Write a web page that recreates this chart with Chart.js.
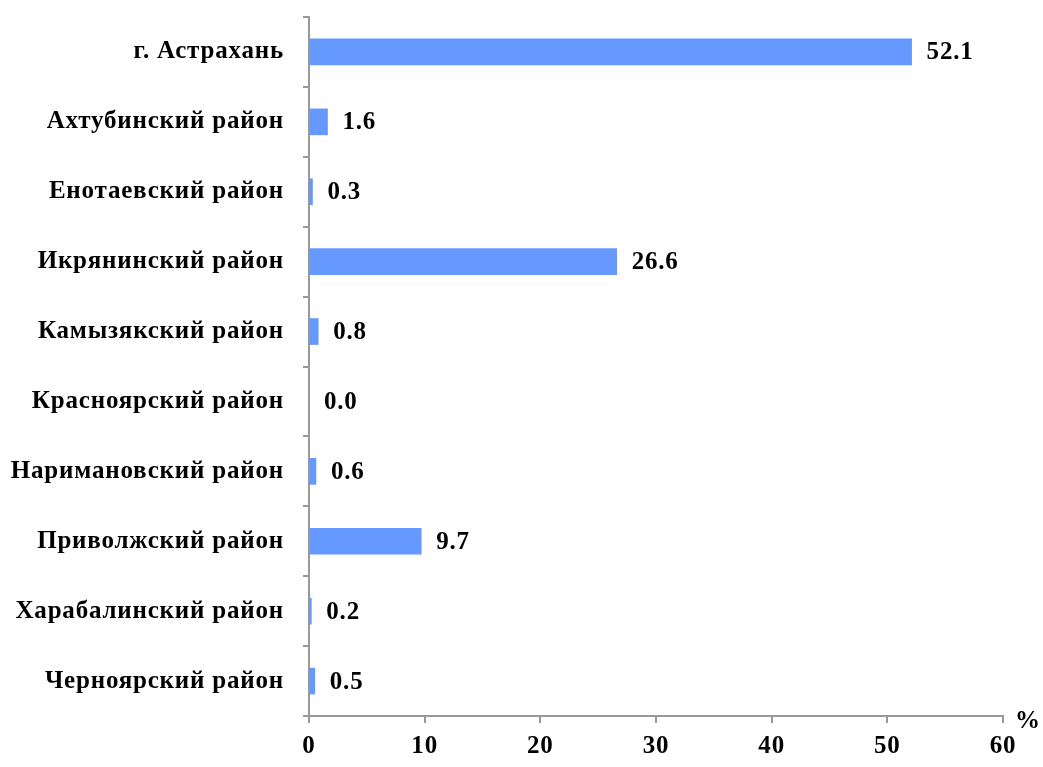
<!DOCTYPE html>
<html>
<head>
<meta charset="utf-8">
<script src="https://cdn.jsdelivr.net/npm/chart.js@4"></script>
<style>
html,body{margin:0;padding:0;background:#fff;}
#wrap{width:1043px;height:767px;}
</style>
</head>
<body>
<div id="wrap"><canvas id="c" width="1043" height="767"></canvas></div>
<script>
const categories = ["г. Астрахань","Ахтубинский район","Енотаевский район","Икрянинский район","Камызякский район","Красноярский район","Наримановский район","Приволжский район","Харабалинский район","Черноярский район"];
const values = [52.1, 1.6, 0.3, 26.6, 0.8, 0.0, 0.6, 9.7, 0.2, 0.5];
const xTicks = [0, 10, 20, 30, 40, 50, 60];
const unitLabel = "%";

const FONT = "'Liberation Serif', 'Times New Roman', serif";
const FSIZE = 25;
const SPACING = '0.8px';

const spacingPlugin = {
  id: 'spacing',
  beforeDraw(chart) { chart.ctx.letterSpacing = SPACING; },
  beforeLayout(chart) { chart.ctx.letterSpacing = SPACING; }
};

const labelPlugin = {
  id: 'valLabels',
  afterDatasetsDraw(chart) {
    const ctx = chart.ctx;
    const meta = chart.getDatasetMeta(0);
    ctx.save();
    ctx.letterSpacing = SPACING;
    ctx.font = "bold " + FSIZE + "px " + FONT;
    ctx.fillStyle = "#000";
    ctx.textBaseline = "middle";
    ctx.textAlign = "left";
    meta.data.forEach((bar, i) => {
      ctx.fillText(values[i].toFixed(1), bar.x + 15, bar.y + 1);
    });
    const xs = chart.scales.x;
    ctx.fillText(unitLabel, xs.right + 12, xs.top + 6);
    ctx.restore();
  }
};

new Chart(document.getElementById('c'), {
  type: 'bar',
  data: {
    labels: categories,
    datasets: [{
      data: values,
      backgroundColor: '#6699FF',
      borderWidth: 0,
      barThickness: 26
    }]
  },
  options: {
    indexAxis: 'y',
    responsive: false,
    animation: false,
    devicePixelRatio: 1,
    layout: { padding: { top: 17, right: 40, left: 0, bottom: 0 } },
    plugins: { legend: { display: false }, tooltip: { enabled: false } },
    scales: {
      x: {
        min: 0, max: 60,
        afterBuildTicks(s) { s.ticks = xTicks.map(v => ({ value: v })); },
        afterFit(s) { s.height = 51; s.paddingLeft = 0; s.paddingRight = 0; },
        border: { display: true, color: '#999999', width: 2 },
        grid: { drawOnChartArea: false, drawTicks: true, tickLength: 7, color: '#999999', lineWidth: 2 },
        ticks: { color: '#000', font: { family: FONT, size: FSIZE, weight: 'bold' }, padding: 9 }
      },
      y: {
        afterFit(s) { s.width = 309; s.paddingTop = 0; s.paddingBottom = 0; },
        border: { display: true, color: '#999999', width: 2 },
        grid: { offset: true, drawOnChartArea: false, drawTicks: true, tickLength: 6, color: '#999999', lineWidth: 2 },
        ticks: { color: '#000', font: { family: FONT, size: FSIZE, weight: 'bold' }, padding: 19 }
      }
    }
  },
  plugins: [spacingPlugin, labelPlugin]
});
</script>
</body>
</html>
